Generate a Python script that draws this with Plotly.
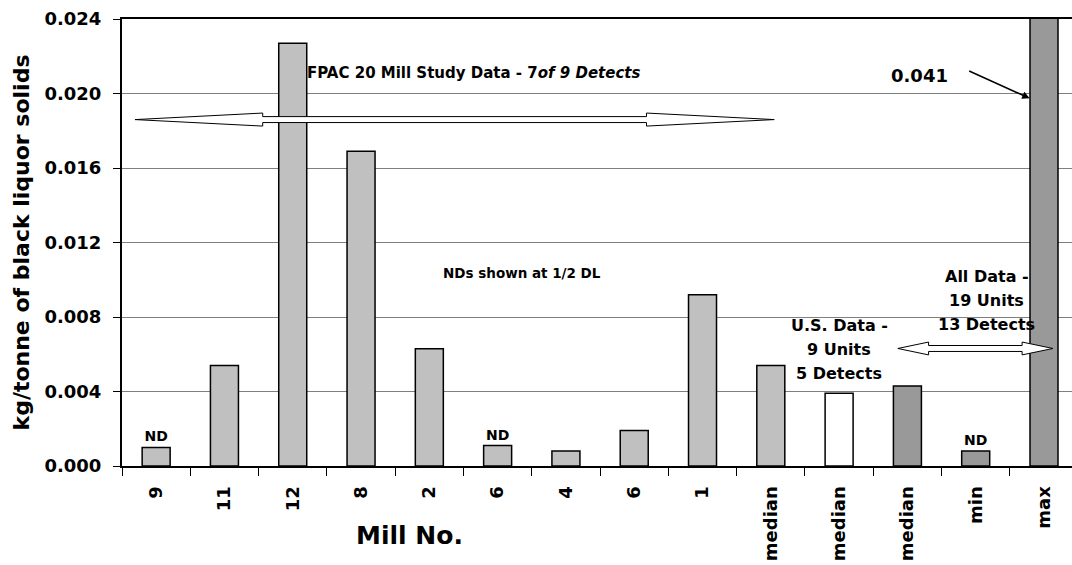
import plotly.graph_objects as go

# Mill-by-mill emission factors (kg/tonne of black liquor solids)
mills = ["9", "11", "12", "8", "2", "6", "4", "6", "1",
         "median", "median", "median", "min", "max"]
emission = [0.0010, 0.0054, 0.0227, 0.0169, 0.0063, 0.0011, 0.0008, 0.0019,
            0.0092, 0.0054, 0.0039, 0.0043, 0.0008, 0.041]
dataset = ["FPAC", "FPAC", "FPAC", "FPAC", "FPAC", "FPAC", "FPAC", "FPAC",
           "FPAC", "FPAC", "US", "All", "All", "All"]
non_detect = [True, False, False, False, False, True, False, False,
              False, False, False, False, True, False]
y_ticks = [0.000, 0.004, 0.008, 0.012, 0.016, 0.020, 0.024]

FONT = "DejaVu Sans"
fill_by_set = {"FPAC": "#C0C0C0", "US": "#FFFFFF", "All": "#999999"}

x_pos = list(range(len(mills)))

fig = go.Figure()
fig.add_trace(go.Bar(
    x=x_pos,
    y=emission,
    width=0.41,
    marker=dict(color=[fill_by_set[d] for d in dataset],
                line=dict(color="black", width=1.5)),
    text=["ND" if nd else "" for nd in non_detect],
    textposition="outside",
    constraintext="none",
    cliponaxis=True,
    textfont=dict(family=FONT, size=14, color="black", weight="bold"),
    hoverinfo="x+y",
))


def double_arrow(x0, x1, y, head_len, head_h, shaft_h):
    pts = [(x0, y), (x0 + head_len, y + head_h), (x0 + head_len, y + shaft_h),
           (x1 - head_len, y + shaft_h), (x1 - head_len, y + head_h), (x1, y),
           (x1 - head_len, y - head_h), (x1 - head_len, y - shaft_h),
           (x0 + head_len, y - shaft_h), (x0 + head_len, y - head_h)]
    path = "M " + " L ".join(f"{px},{py}" for px, py in pts) + " Z"
    return dict(type="path", path=path, xref="x", yref="y",
                fillcolor="white", line=dict(color="black", width=1),
                layer="above")


shapes = [
    double_arrow(-0.31, 9.05, 0.0186, 1.87, 0.00035, 0.00016),
    double_arrow(10.86, 13.13, 0.00631, 0.45, 0.000345, 0.00016),
]

bold = dict(family=FONT, color="black", weight="bold")
annotations = [
    dict(x=2.18, y=0.0211, xref="x", yref="y", xanchor="left", yanchor="middle",
         text="FPAC 20 Mill Study Data - 7<i>of 9 Detects</i>",
         showarrow=False, font=dict(size=15, **bold)),
    dict(x=5.356, y=0.01036, xref="x", yref="y", xanchor="center",
         yanchor="middle", text="NDs shown at 1/2 DL",
         showarrow=False, font=dict(size=13.5, **bold)),
    dict(x=11.18, y=0.02094, xref="x", yref="y", xanchor="center",
         yanchor="middle", text="0.041",
         showarrow=False, font=dict(size=18, **bold)),
    dict(x=12.79, y=0.01974, xref="x", yref="y", text="", showarrow=True,
         ax=-62, ay=-28, arrowhead=2, arrowsize=1, arrowwidth=1.5,
         arrowcolor="black", standoff=0),
    dict(x=0, y=0.5, xref="paper", yref="paper", xanchor="center",
         yanchor="middle", xshift=-101, textangle=-90,
         text="kg/tonne of black liquor solids",
         showarrow=False, font=dict(size=22, **bold)),
    dict(x=0.303, y=0, xref="paper", yref="paper", xanchor="center",
         yanchor="middle", yshift=-69, text="Mill No.",
         showarrow=False, font=dict(size=25, **bold)),
]

us_lines = ["U.S. Data -", "9 Units", "5 Detects"]
us_y = [0.00752, 0.00623, 0.00494]
all_lines = ["All Data -", "19 Units", "13 Detects"]
all_y = [0.0102, 0.00891, 0.00762]
for txt, yy in zip(us_lines, us_y):
    annotations.append(dict(x=10.0, y=yy, xref="x", yref="y", xanchor="center",
                            yanchor="middle", text=txt, showarrow=False,
                            font=dict(size=16, **bold)))
for txt, yy in zip(all_lines, all_y):
    annotations.append(dict(x=12.16, y=yy, xref="x", yref="y", xanchor="center",
                            yanchor="middle", text=txt, showarrow=False,
                            font=dict(size=16, **bold)))

fig.update_layout(
    width=1072, height=565, autosize=False,
    margin=dict(l=122, r=0, t=19, b=99, pad=0),
    plot_bgcolor="white", paper_bgcolor="white",
    showlegend=False,
    bargap=0.59,
    shapes=shapes,
    annotations=annotations,
    xaxis=dict(
        range=[-0.5, 13.41],
        tickmode="array", tickvals=x_pos, ticktext=mills,
        tickangle=-90,
        tickfont=dict(family=FONT, size=18, color="black", weight="bold"),
        ticks="outside", ticklen=0, ticklabelstandoff=11,
        minor=dict(tickmode="linear", tick0=-0.5, dtick=1, ticks="outside",
                   ticklen=8, tickwidth=1.2, tickcolor="black", showgrid=False),
        showline=True, linecolor="black", linewidth=2, mirror=True,
        showgrid=False, zeroline=False,
    ),
    yaxis=dict(
        range=[0, 0.024],
        tickmode="array", tickvals=y_ticks,
        ticktext=[f"{v:.3f}" for v in y_ticks],
        tickfont=dict(family=FONT, size=18, color="black", weight="bold"),
        ticks="outside", ticklen=7, tickwidth=1.2, tickcolor="black",
        ticklabelstandoff=8,
        showline=True, linecolor="black", linewidth=2,
        showgrid=True, gridcolor="#7F7F7F", gridwidth=1,
        zeroline=False,
    ),
)

fig.write_html("out.html")
